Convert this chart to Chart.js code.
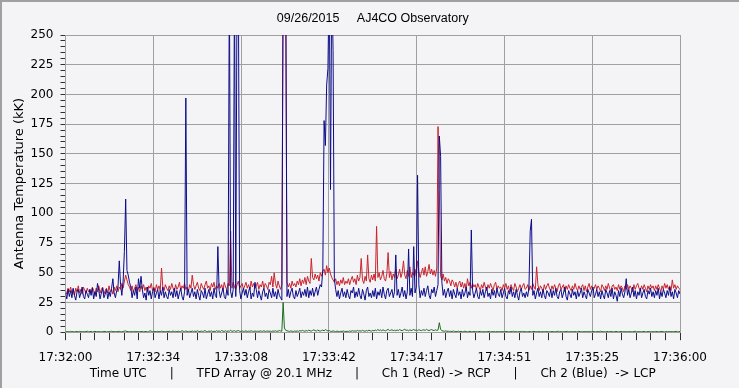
<!DOCTYPE html>
<html>
<head>
<meta charset="utf-8">
<script src="https://cdn.jsdelivr.net/npm/chart.js@4.4.0/dist/chart.umd.min.js"></script>
<style>
  html, body { margin: 0; padding: 0; background: #f4f4f6; }
</style>
</head>
<body>
<canvas id="chart" width="740" height="389"></canvas>
<script>
// one sample every half second, 17:32:00 -> 17:36:00
const STEP = 0.5;
const TIME_LABELS = ['17:32:00', '17:32:34', '17:33:08', '17:33:42', '17:34:17', '17:34:51', '17:35:25', '17:36:00'];

// Ch 2 (LCP), kK
const BLUE = [
  33,28,36,30,35,29,37,31,27,34,36,29,33,38,30,28,35,32,29,36,
  31,37,28,34,30,41,35,28,33,37,29,32,36,28,34,30,37,45,33,29,
  35,38,60,40,31,43,68,112,52,48,42,38,29,35,31,38,28,45,37,47,
  36,29,33,27,38,31,35,28,34,37,29,33,36,28,35,31,38,29,34,30,
  28,36,31,34,29,37,30,35,28,33,37,30,27,34,197,31,36,29,33,37,
  30,34,28,36,31,27,35,33,29,37,28,32,36,30,34,28,37,31,29,72,
  35,29,33,37,30,28,36,31,300,34,29,36,300,30,300,300,35,28,33,37,
  31,36,29,34,38,28,33,30,42,36,29,35,31,27,34,37,30,33,28,36,
  33,29,37,30,34,28,36,31,29,27,300,300,300,30,36,29,34,37,30,28,
  35,30,33,37,29,34,31,36,30,38,29,35,31,37,30,34,38,31,36,40,
  38,53,178,157,208,222,300,120,300,237,45,36,30,35,28,33,37,30,34,29,
  36,31,28,35,33,38,29,34,30,37,31,28,36,32,27,35,38,30,33,29,
  35,30,37,28,34,31,36,29,38,32,28,35,37,30,33,36,29,34,65,31,
  36,29,33,38,30,35,28,34,70,31,37,30,72,33,38,132,40,29,35,31,
  37,30,35,39,31,28,36,33,38,30,35,40,165,148,42,31,36,29,34,37,
  30,35,28,36,32,29,37,31,34,28,36,30,33,38,29,34,31,86,35,29,
  33,37,30,28,35,31,36,29,34,38,30,33,28,36,31,35,29,37,32,30,
  36,29,33,37,30,28,35,32,38,30,34,29,36,31,27,34,37,30,33,29,
  34,30,37,85,95,31,35,28,33,37,30,34,29,36,31,28,35,33,30,36,
  29,35,31,37,30,28,34,36,29,33,38,30,27,35,32,29,36,31,34,28,
  35,30,33,37,29,34,31,28,36,33,30,35,38,29,32,36,30,34,28,35,
  31,28,36,33,29,35,30,37,28,34,31,26,35,30,37,32,29,34,45,31,
  36,29,33,38,30,35,28,34,31,37,29,33,36,30,28,35,32,37,30,34,
  29,35,31,37,28,34,30,36,33,29,35,31,38,30,34,28,36,33,29,35,
  32
];

// Ch 1 (RCP), kK
const RED = [
  35,32,37,34,38,33,36,31,37,34,39,33,36,32,38,35,33,37,34,36,
  33,38,35,32,37,34,39,33,36,38,32,35,37,33,39,34,36,32,38,35,
  39,34,38,36,41,37,43,48,44,40,38,35,39,34,37,40,35,38,34,39,
  36,40,35,38,34,39,37,41,35,38,34,40,36,39,35,54,38,35,40,37,
  35,39,36,41,37,34,40,36,38,42,35,39,37,41,36,38,34,40,37,48,
  40,36,39,42,37,35,41,38,36,40,43,37,39,35,41,38,42,36,39,37,
  41,37,40,35,42,38,36,41,39,85,37,42,38,36,40,43,37,39,41,36,
  39,42,37,40,36,43,38,41,37,39,42,36,40,38,43,37,41,39,36,42,
  40,47,38,50,41,37,43,39,36,40,300,300,300,42,38,41,37,43,39,41,
  38,43,40,45,39,44,41,46,40,47,43,41,62,46,44,49,45,48,43,50,
  47,51,53,48,56,50,54,49,46,44,42,45,40,43,39,44,41,46,40,43,
  41,45,40,44,47,42,45,40,48,43,46,62,44,41,47,43,65,45,42,48,
  44,49,43,89,46,50,44,47,52,45,43,49,67,46,51,44,49,46,53,45,
  48,53,46,50,60,48,45,52,47,55,46,50,48,53,47,60,51,46,50,54,
  48,55,47,51,57,49,53,48,52,47,54,173,120,47,44,49,43,46,41,45,
  43,39,44,42,38,42,37,41,43,38,42,37,41,36,45,39,42,37,41,38,
  40,36,41,38,35,40,37,42,38,35,40,37,41,38,35,40,42,36,39,37,
  38,35,40,37,41,36,39,34,40,37,35,41,38,34,37,40,36,39,41,36,
  37,40,35,39,36,41,38,36,55,40,35,39,37,34,40,36,39,41,37,35,
  39,36,40,37,34,39,41,36,38,40,34,39,36,40,37,35,39,36,41,37,
  35,39,36,38,40,35,39,34,38,41,36,39,35,37,40,36,39,37,34,40,
  38,35,39,36,41,37,34,39,40,36,38,35,40,36,39,37,34,39,36,40,
  36,39,37,34,40,36,39,41,37,35,39,36,40,37,34,39,36,40,37,39,
  35,39,36,40,37,34,39,36,41,37,40,36,39,35,44,37,40,36,39,37,
  36
];

// third trace, sits near zero
const GREEN = [
  0.4,0.6,0.3,0.5,0.7,0.4,0.5,0.3,0.6,0.5,0.4,0.7,0.5,0.3,0.6,0.4,0.5,0.8,0.4,0.5,
  0.6,0.3,0.5,0.7,0.4,0.6,0.5,0.3,0.4,0.6,0.5,0.7,0.3,0.5,0.4,0.6,0.8,0.5,0.4,0.6,
  0.5,0.4,0.7,0.5,0.3,0.6,0.9,1.0,0.6,0.5,0.4,0.6,0.3,0.5,0.7,0.4,0.5,0.6,0.4,0.5,
  0.7,0.4,0.5,0.6,0.3,0.5,1.2,0.8,0.5,0.4,0.6,0.5,0.7,0.4,0.5,0.9,0.6,0.4,0.5,0.7,
  0.5,0.8,0.4,0.6,1.0,0.5,0.7,0.4,0.9,0.6,0.5,1.3,0.7,0.5,1.1,0.6,0.4,0.8,0.5,1.0,
  0.6,0.9,0.5,1.2,0.7,0.5,1.0,0.6,0.8,1.4,0.6,0.5,0.9,0.7,1.1,0.5,0.8,0.6,1.3,0.7,
  1.0,0.6,1.5,0.8,0.7,1.2,0.6,1.0,0.8,1.6,0.7,0.9,1.3,0.6,1.1,1.4,0.8,0.6,1.0,0.7,
  0.8,1.1,0.6,0.9,0.7,1.2,0.8,0.6,1.0,0.7,0.9,0.6,1.1,0.8,0.7,1.3,0.6,0.9,1.0,0.7,
  0.9,0.6,1.0,0.8,1.2,0.7,0.9,1.4,1.0,0.8,25,3.5,1.6,1.2,0.9,0.7,1.1,0.8,0.6,1.0,
  0.7,1.0,0.8,1.3,0.9,1.6,1.1,0.8,1.4,1.0,1.7,1.2,0.9,1.5,2.0,1.3,1.0,1.8,1.2,0.9,
  1.4,1.8,1.1,2.2,1.5,1.0,1.3,0.8,0.6,1.1,0.8,0.5,0.9,0.7,0.5,0.8,0.6,1.0,0.7,0.5,
  0.8,0.6,1.0,0.7,1.3,0.9,1.1,0.8,1.5,1.0,1.2,0.9,1.6,1.1,0.8,1.4,1.0,1.7,1.2,0.9,
  1.5,1.1,1.8,1.3,2.3,1.4,1.9,1.2,2.0,1.5,1.1,1.8,2.4,1.4,1.6,2.1,1.3,1.7,1.2,1.9,
  1.4,2.2,1.6,1.3,1.9,2.5,1.5,1.8,1.2,2.0,1.4,1.7,2.3,1.5,1.9,1.3,2.1,1.6,1.4,1.8,
  2.0,1.5,2.4,1.7,1.3,1.9,2.2,1.6,1.4,2.0,1.5,1.8,8.0,2.5,1.2,1.0,0.8,1.1,0.7,0.9,
  0.6,0.8,0.5,1.0,0.7,0.4,0.6,0.9,0.5,0.7,0.4,0.6,0.8,0.5,0.3,0.6,0.7,0.4,0.5,0.6,
  0.4,0.6,0.3,0.5,0.7,0.4,0.5,0.3,0.6,0.4,0.5,0.7,0.3,0.5,0.4,0.6,0.3,0.5,0.4,0.6,
  0.5,0.3,0.6,0.4,0.5,0.7,0.3,0.5,0.4,0.6,0.8,0.4,0.5,0.3,0.6,0.4,0.5,0.7,0.4,0.5,
  0.3,0.5,0.4,0.6,0.3,0.5,0.7,0.4,0.5,0.3,0.6,0.4,0.5,0.3,0.4,0.6,0.5,0.3,0.5,0.4,
  0.6,0.4,0.5,0.3,0.6,0.8,0.4,0.5,0.3,0.6,0.4,0.5,0.7,0.4,0.3,0.5,0.6,0.4,0.5,0.3,
  0.5,0.7,0.4,0.6,0.3,0.5,0.4,0.6,0.5,0.3,0.7,0.4,0.5,0.6,0.3,0.5,0.4,0.6,0.8,0.4,
  0.4,0.5,0.3,0.6,0.4,0.5,0.7,0.3,0.5,0.4,0.6,0.5,0.3,0.5,0.7,0.4,0.6,0.3,0.5,0.4,
  0.6,0.3,0.5,0.4,0.6,0.8,0.4,0.5,0.3,0.6,0.4,0.5,0.7,0.3,0.5,0.4,0.6,0.5,0.3,0.5,
  0.4,0.6,0.5,0.3,0.5,0.7,0.4,0.6,0.3,0.5,0.4,0.6,0.5,0.3,0.6,0.4,0.5,0.7,0.4,0.5,
  0.5
];

const SPAN = 240;          // seconds on the x axis
const MINOR_PER_MAJOR = 6;
const xTickValues = [];
for (let i = 0; i <= (TIME_LABELS.length - 1) * MINOR_PER_MAJOR; i++) {
  xTickValues.push(i * SPAN / ((TIME_LABELS.length - 1) * MINOR_PER_MAJOR));
}

const toPoints = (arr) => arr.map((v, i) => ({ x: i * STEP, y: v }));

const GRID = '#a0a0a0';
const NONE = 'rgba(0,0,0,0)';

// window-like panel background and sunken edge
const panel = {
  id: 'panel',
  beforeDraw(chart) {
    const { ctx, width, height } = chart;
    ctx.save();
    ctx.fillStyle = '#f4f4f6';
    ctx.fillRect(0, 0, width, height);
    ctx.restore();
  },
  afterDraw(chart) {
    const { ctx, width, height } = chart;
    ctx.save();
    ctx.fillStyle = '#a0a0a0';
    ctx.fillRect(0, 0, width, 2);
    ctx.fillRect(0, 0, 2, height);
    ctx.fillStyle = '#ffffff';
    ctx.fillRect(0, height - 1, width, 1);
    ctx.fillRect(width - 1, 0, 1, height);
    ctx.restore();
  }
};

Chart.defaults.font.family = '"DejaVu Sans", Verdana, sans-serif';
Chart.defaults.font.size = 12;
Chart.defaults.color = '#000';

new Chart(document.getElementById('chart'), {
  type: 'line',
  data: {
    datasets: [
      { label: 'Ch 2 (Blue)', data: toPoints(BLUE), borderColor: '#0c0c8a', borderWidth: 1 },
      { label: 'Ch 1 (Red)', data: toPoints(RED), borderColor: '#c8242e', borderWidth: 1 },
      { label: 'Ch 3', data: toPoints(GREEN), borderColor: '#1f6a1f', borderWidth: 1 }
    ]
  },
  options: {
    responsive: false,
    animation: false,
    events: [],
    elements: { point: { radius: 0 }, line: { tension: 0 } },
    layout: { padding: { left: 12, right: 60, top: 0, bottom: 8 } },
    plugins: {
      legend: { display: false },
      tooltip: { enabled: false },
      title: {
        display: true,
        fullSize: false,
        text: '09/26/2015     AJ4CO Observatory',
        font: { family: '"Liberation Sans", Arial, sans-serif', size: 12.5, weight: 'normal' },
        color: '#000',
        padding: { top: 11, bottom: 9 }
      }
    },
    scales: {
      x: {
        type: 'linear',
        min: 0,
        max: SPAN,
        afterBuildTicks: (scale) => { scale.ticks = xTickValues.map(v => ({ value: v })); },
        ticks: {
          autoSkip: false,
          maxRotation: 0,
          minRotation: 0,
          padding: 10,
          callback: (v, i) => (i % MINOR_PER_MAJOR === 0 ? TIME_LABELS[i / MINOR_PER_MAJOR] : '')
        },
        grid: {
          color: (c) => (c.index % MINOR_PER_MAJOR === 0 ? GRID : NONE),
          tickColor: '#303030',
          tickLength: 8
        },
        border: { display: true, color: GRID },
        title: {
          display: true,
          text: 'Time UTC      |      TFD Array @ 20.1 MHz      |      Ch 1 (Red) -> RCP      |      Ch 2 (Blue)  -> LCP',
          padding: { top: -8, bottom: 0 }
        }
      },
      y: {
        min: 0,
        max: 250,
        ticks: {
          stepSize: 5,
          autoSkip: false,
          padding: 7,
          callback: (v) => (v % 25 === 0 ? v : '')
        },
        grid: {
          color: (c) => (c.tick && c.tick.value % 25 === 0 ? GRID : NONE),
          tickColor: '#303030',
          tickLength: 5
        },
        border: { display: true, color: GRID },
        title: {
          display: true,
          text: 'Antenna Temperature (kK)',
          font: { size: 13 },
          padding: { top: 0, bottom: -4 }
        }
      }
    }
  },
  plugins: [panel]
});
</script>
</body>
</html>
